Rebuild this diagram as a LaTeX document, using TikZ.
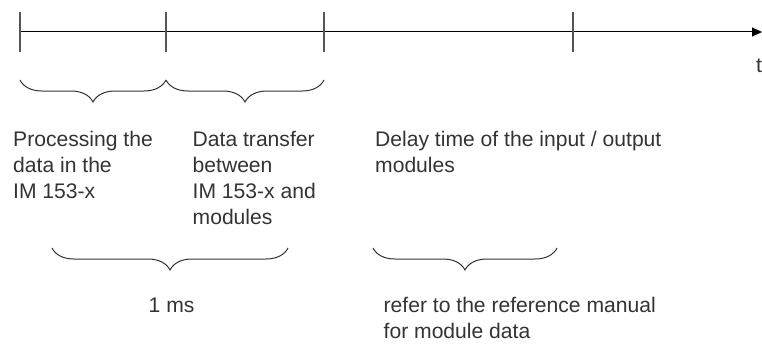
\documentclass[tikz,border=0pt]{standalone}
\usepackage{fontspec}
\setmainfont{Liberation Sans}
\usetikzlibrary{arrows.meta,decorations.pathreplacing}
\definecolor{inkgray}{HTML}{333333}
\definecolor{tickgray}{HTML}{555555}
\tikzset{
  axisline/.style={-{Triangle[length=10pt,width=9pt]},line width=1pt,black},
  timetick/.style={line width=1.3pt,tickgray},
  bracepath/.style={decorate,decoration={brace,mirror,amplitude=22pt},
    line width=1pt,inkgray},
  % base of a text block = baseline of its last line
  labeltext/.style={anchor=base west,inner sep=0pt,align=left,text=inkgray,
    font=\fontsize{21.1}{26}\selectfont},
}

\begin{document}
\begin{tikzpicture}[x=1pt,y=-1pt]
  \useasboundingbox (0,0) rectangle (762,345);

  % time axis
  \coordinate (t0) at (20,32);
  \coordinate (t1) at (166,32);
  \coordinate (t2) at (324,32);
  \coordinate (t3) at (573,32);
  \coordinate (tend) at (762,32);
  \draw[axisline] (t0) -- (tend);
  \foreach \p in {t0,t1,t2,t3}
    \draw[timetick] ([yshift=20pt]\p) -- ([yshift=-20pt]\p);
  \node[labeltext] (tlab) at (756,72) {t};

  % upper braces
  \coordinate (b0) at (20,80);
  \coordinate (b1) at (166,80);
  \coordinate (b2) at (324,80);
  \draw[bracepath] (b0) -- (b1);
  \draw[bracepath] (b1) -- (b2);

  \node[labeltext] (proc) at (13,198.5)
    {Processing the\\data in the\\IM 153-x};
  \node[labeltext] (xfer) at (192.5,224.3)
    {Data transfer\\between\\IM 153-x and\\modules};
  \node[labeltext] (delay) at (375,172.5)
    {Delay time of the input / output\\modules};

  % lower braces
  \coordinate (c0) at (52,248);
  \coordinate (c1) at (288,248);
  \coordinate (d0) at (373,248);
  \coordinate (d1) at (557,248);
  \draw[bracepath] (c0) -- (c1);
  \draw[bracepath] (d0) -- (d1);

  \node[labeltext] (onems) at (148.5,312.5) {1 ms};
  \node[labeltext] (refer) at (383.5,338)
    {refer to the reference manual\\for module data};
\end{tikzpicture}
\end{document}
